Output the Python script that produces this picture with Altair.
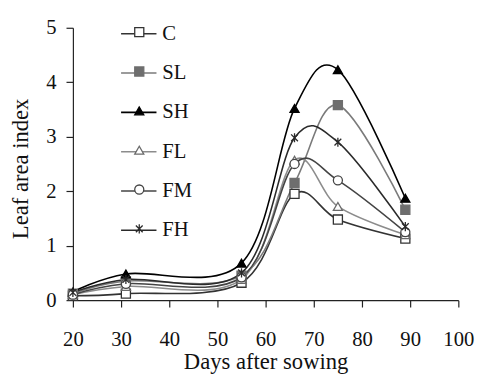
import altair as alt
import pandas as pd

days = [20, 31, 55, 66, 75, 89]
series_names = ["C", "SL", "SH", "FL", "FM", "FH"]
values = {
    "C":  [0.08, 0.12, 0.32, 1.95, 1.48, 1.13],
    "SL": [0.12, 0.35, 0.45, 2.15, 3.58, 1.66],
    "SH": [0.15, 0.48, 0.68, 3.52, 4.23, 1.87],
    "FL": [0.10, 0.25, 0.38, 2.57, 1.72, 1.20],
    "FM": [0.10, 0.30, 0.42, 2.50, 2.20, 1.25],
    "FH": [0.14, 0.38, 0.50, 2.98, 2.90, 1.35],
}
x_ticks = [20, 30, 40, 50, 60, 70, 80, 90, 100]
y_ticks = [0, 1, 2, 3, 4, 5]

line_colors = ["#333333", "#7a7a7a", "#000000", "#8c8c8c", "#444444", "#2a2a2a"]
fill_colors = ["#ffffff", "#6e6e6e", "#000000", "#ffffff", "#ffffff", "#2a2a2a"]
stroke_colors = ["#333333", "#6e6e6e", "#000000", "#6a6a6a", "#444444", "#2a2a2a"]
asterisk = "M-0.75,-0.75L0.75,0.75M-0.75,0.75L0.75,-0.75M0,-1L0,1"
shapes = ["square", "square", "triangle-up", "triangle-up", "circle", asterisk]

rows = []
for s in series_names:
    for d, v in zip(days, values[s]):
        rows.append({"day": d, "lai": v, "Series": s, "Marker": s})
df = pd.DataFrame(rows)

FONT = "Liberation Serif"

x = alt.X("day:Q", scale=alt.Scale(domain=[20, 100], nice=False, zero=False),
          axis=alt.Axis(values=x_ticks, title="Days after sowing", grid=False,
                        labelFlush=False, tickSize=7, labelPadding=22, titlePadding=2))
y = alt.Y("lai:Q", scale=alt.Scale(domain=[0, 5], nice=False),
          axis=alt.Axis(values=y_ticks, title="Leaf area index", grid=False,
                        labelFlush=False, tickSize=7, labelPadding=10, titlePadding=14,
                        titleY=143))

lines = alt.Chart(df).mark_line(interpolate="cardinal", strokeWidth=1.6).encode(
    x=x, y=y,
    color=alt.Color("Series:N", sort=series_names,
                    scale=alt.Scale(range=line_colors),
                    legend=alt.Legend(orient="none", legendX=48, legendY=-13, title=None,
                                      symbolType="stroke", symbolSize=1296,
                                      symbolStrokeWidth=1.6, labelFont=FONT,
                                      labelFontSize=21, labelColor="#111111",
                                      labelOffset=5, rowPadding=11, padding=0)),
    detail="Series:N",
)

pt_legend = alt.Legend(orient="none", legendX=57, legendY=-6, title=None,
                       symbolSize=85, symbolStrokeWidth=1.3,
                       labelFont=FONT, labelFontSize=21, labelExpr="''",
                       labelOffset=5, rowPadding=18, padding=0)

points = alt.Chart(df).mark_point(filled=False, strokeWidth=1.3, opacity=1, size=85).encode(
    x=x, y=y,
    shape=alt.Shape("Marker:N",
                    scale=alt.Scale(domain=series_names, range=shapes), legend=pt_legend),
    fill=alt.Fill("Marker:N",
                  scale=alt.Scale(domain=series_names, range=fill_colors), legend=pt_legend),
    stroke=alt.Stroke("Marker:N",
                      scale=alt.Scale(domain=series_names, range=stroke_colors), legend=pt_legend),
)

chart = alt.layer(lines, points).properties(
    width=392, height=277,
    autosize=alt.AutoSizeParams(type="none"),
    padding={"left": 66, "top": 17, "right": 20, "bottom": 72},
).configure_view(stroke=None).configure_axis(
    labelFont=FONT, titleFont=FONT, labelFontSize=21, titleFontSize=23,
    titleFontWeight="normal", labelColor="#111111", titleColor="#111111",
    domainColor="#222222", tickColor="#222222", domainWidth=1.2, tickWidth=1.2,
)

chart.save("out.html", embed_options={"renderer": "svg", "actions": False})
